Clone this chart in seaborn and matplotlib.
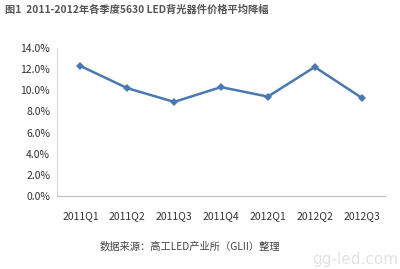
import matplotlib
matplotlib.use("Agg")
import matplotlib.pyplot as plt
import seaborn as sns
import pandas as pd
from matplotlib.ticker import FuncFormatter

quarters = ["2011Q1", "2011Q2", "2011Q3", "2011Q4", "2012Q1", "2012Q2", "2012Q3"]
decline = [0.123, 0.102, 0.089, 0.103, 0.094, 0.122, 0.093]
yticks = [0.0, 0.02, 0.04, 0.06, 0.08, 0.10, 0.12, 0.14]

title = "图1  2011-2012年各季度5630 LED背光器件价格平均降幅"
source = "数据来源：高工LED产业所（GLII）整理"

sns.set_theme(style="white")
plt.rcParams['font.family'] = ['Noto Sans CJK SC', 'DejaVu Sans']

df = pd.DataFrame({"quarter": quarters, "decline": decline})

fig = plt.figure(figsize=(4.0, 2.69), dpi=100)
ax = fig.add_axes([0.1425, 0.2714, 0.82, 0.5502])
sns.lineplot(data=df, x="quarter", y="decline", ax=ax, color="#4a78b0",
             linewidth=1.8, marker="D", markersize=4.5, markeredgewidth=0, sort=False)

ax.set_xlim(-0.5, len(quarters) - 0.5)
ax.set_ylim(0, 0.14)
ax.set_yticks(yticks)
ax.yaxis.set_major_formatter(FuncFormatter(lambda v, p: f"{v*100:.1f}%"))
ax.set_xlabel("")
ax.set_ylabel("")
for s in ["top", "right"]:
    ax.spines[s].set_visible(False)
ax.spines["left"].set_color("#d8d8d8")
ax.spines["bottom"].set_color("#bdbdbd")
ax.spines["left"].set_linewidth(0.8)
ax.spines["bottom"].set_linewidth(0.8)
ax.tick_params(axis="both", length=0, labelsize=7.5, colors="#333333")
ax.tick_params(axis="x", pad=11)
ax.tick_params(axis="y", pad=5)

fig.text(0.012, 0.965, title, fontsize=7.4, color="#555555", fontweight="bold",
         ha="left", va="center")
fig.text(0.475, 0.083, source, fontsize=7.4, color="#444444", ha="center", va="center")
fig.text(0.995, 0.035, "gg-led.com", fontsize=11, color="#e2e2e2", ha="right",
         va="center", family="DejaVu Sans", zorder=0)

fig.savefig("out.png", dpi=100)
